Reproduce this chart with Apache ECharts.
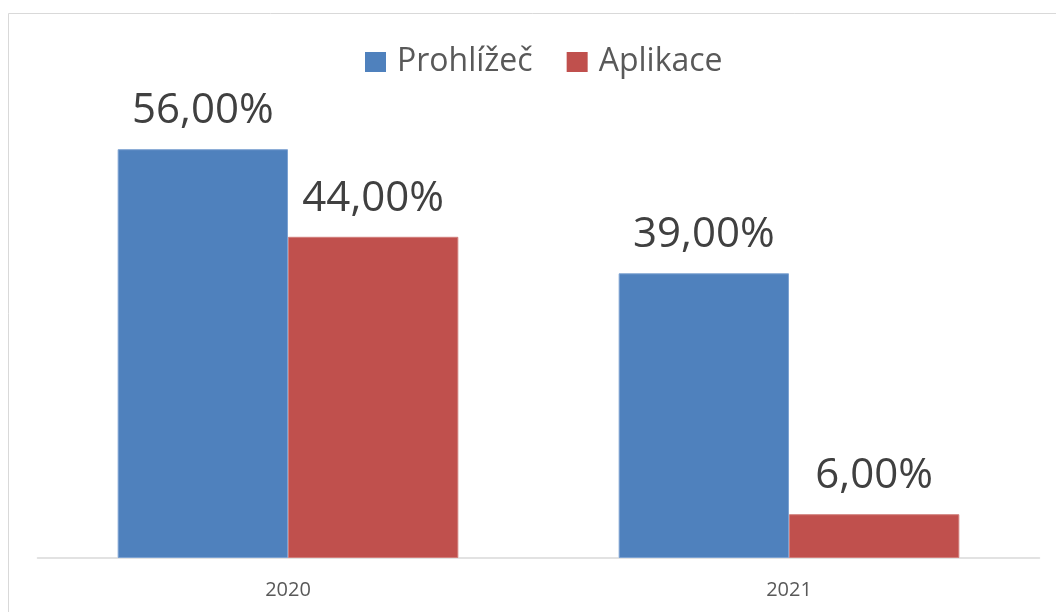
<!DOCTYPE html>
<html>
<head>
<meta charset="utf-8">
<style>
  html, body { margin: 0; padding: 0; background: #ffffff; }
  #chart { width: 1056px; height: 612px; }
</style>
<script src="https://cdn.jsdelivr.net/npm/echarts@6/dist/echarts.min.js"></script>
</head>
<body>
<div id="chart"></div>
<script>
// Share of access by channel, per year (percent)
const years = ['2020', '2021'];
const seriesNames = ['Prohlížeč', 'Aplikace'];
const browserShare = [56, 39];
const appShare = [44, 6];

const FONT = '"Open Sans", "Noto Sans", sans-serif';

function pct(v) {
  return v.toFixed(2).replace('.', ',') + '%';
}

const chart = echarts.init(document.getElementById('chart'), null, { renderer: 'canvas' });

const valueLabel = {
  show: true,
  position: 'top',
  distance: 17,
  fontFamily: FONT,
  fontSize: 42,
  lineHeight: 42,
  color: '#404040',
  formatter: p => pct(p.value)
};

chart.setOption({
  backgroundColor: '#ffffff',
  animation: false,
  graphic: [{
    type: 'rect',
    silent: true,
    shape: { x: 8.5, y: 13.5, width: 1200, height: 800 },
    style: { fill: 'none', stroke: '#d9d9d9', lineWidth: 1 }
  }],
  legend: {
    data: seriesNames,
    left: 360,
    top: 41,
    itemWidth: 21,
    itemHeight: 20,
    itemGap: 34,
    icon: 'rect',
    itemStyle: { borderWidth: 0 },
    textStyle: {
      fontFamily: FONT,
      fontSize: 32,
      lineHeight: 32,
      color: '#595959',
      padding: [0, 0, 0, 6]
    }
  },
  grid: { left: 37.5, right: 16.5, top: 47, bottom: 54, containLabel: false },
  xAxis: {
    type: 'category',
    data: years,
    axisLine: { show: true, lineStyle: { color: '#d9d9d9', width: 1.5 } },
    axisTick: { show: false },
    axisLabel: {
      fontFamily: FONT,
      fontSize: 20,
      color: '#595959',
      margin: 22
    }
  },
  yAxis: {
    type: 'value',
    min: 0,
    max: 70,
    show: false,
    splitLine: { show: false }
  },
  series: [
    {
      name: seriesNames[0],
      type: 'bar',
      data: browserShare,
      barGap: '0%',
      barCategoryGap: '32%',
      itemStyle: { color: '#4f81bd', borderColor: '#7ea3d2', borderWidth: 1 },
      label: valueLabel
    },
    {
      name: seriesNames[1],
      type: 'bar',
      data: appShare,
      barGap: '0%',
      barCategoryGap: '32%',
      itemStyle: { color: '#c0504d', borderColor: '#d17f7c', borderWidth: 1 },
      label: valueLabel
    }
  ]
});
</script>
</body>
</html>
